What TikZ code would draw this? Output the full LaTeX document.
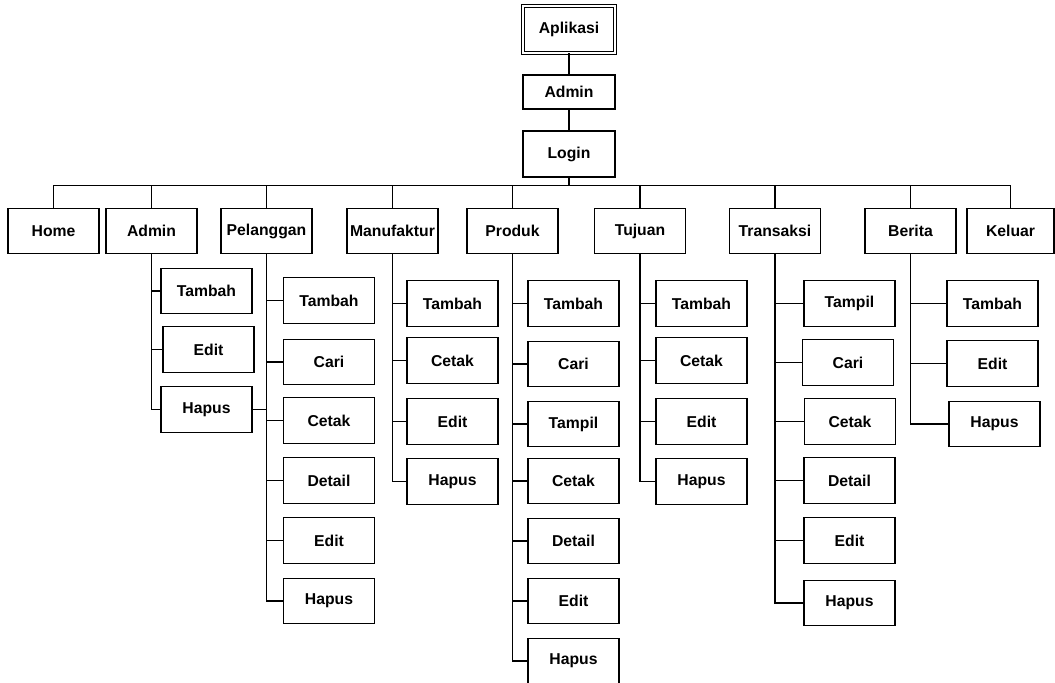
\documentclass[tikz,border=0pt]{standalone}
\usepackage{fontspec}
\setmainfont{Liberation Sans}
\begin{document}
\begin{tikzpicture}[x=0.75pt,y=-0.75pt,
  box/.style={draw,line width=0.9pt,minimum width=68.25pt,minimum height=34pt,inner sep=0pt,
    font=\fontsize{11.8}{14}\selectfont\bfseries},
  wire/.style={line width=0.9pt}]
\useasboundingbox (0,0) rectangle (1055,682);
% top chain
\node[box,minimum width=69pt,minimum height=35pt,double,double distance=1.6pt,line width=0.7pt] (apl) at (569,29.5) {Aplikasi};
\node[box,minimum width=69pt,minimum height=25.5pt] (adm0) at (569,92) {Admin};
\node[box,minimum width=69pt,minimum height=34.5pt] (login) at (569,154) {Login};
\draw[wire] (apl) -- (adm0);
\draw[wire] (adm0) -- (login);
\coordinate (bus) at (569,185.5);
% level 1
\node[box] (home)  at (53.5,231)  {Home};
\node[box] (admin) at (151.5,231) {Admin};
\node[box] (pel)   at (266.5,231) {Pelanggan};
\node[box] (man)   at (392.5,231) {Manufaktur};
\node[box] (prod)  at (512.5,231) {Produk};
\node[box] (tuj)   at (640,231)   {Tujuan};
\node[box] (trans) at (775,231)   {Transaksi};
\node[box] (ber)   at (910.5,231) {Berita};
\node[box,minimum width=65.25pt] (kel) at (1010.5,231) {Keluar};
\draw[wire] (login.south) -- (bus);
\draw[wire] (home.north) |- (bus) -| (kel.north);
\foreach \n in {admin,pel,man,prod,tuj,trans,ber}
  \draw[wire] (\n.north) -- (\n.north |- bus);
% Admin children
\node[box] (a1) at (206.5,291)   {Tambah};
\node[box] (a2) at (208.5,349.5) {Edit};
\node[box] (a3) at (206.5,409.5) {Hapus};
% Pelanggan children
\node[box] (p1) at (329,300.5) {Tambah};
\node[box] (p2) at (329,362)   {Cari};
\node[box] (p3) at (329,420.5) {Cetak};
\node[box] (p4) at (329,480.5) {Detail};
\node[box] (p5) at (329,540.5) {Edit};
\node[box] (p6) at (329,601)   {Hapus};
% Manufaktur children
\node[box] (m1) at (452.5,303.5) {Tambah};
\node[box] (m2) at (452.5,360.5) {Cetak};
\node[box] (m3) at (452.5,421.5) {Edit};
\node[box] (m4) at (452.5,481.5) {Hapus};
% Produk children
\node[box] (r1) at (573.5,303.5) {Tambah};
\node[box] (r2) at (573.5,364)   {Cari};
\node[box] (r3) at (573.5,424)   {Tampil};
\node[box] (r4) at (573.5,481)   {Cetak};
\node[box] (r5) at (573.5,541)   {Detail};
\node[box] (r6) at (573.5,601)   {Edit};
\node[box] (r7) at (573.5,661)   {Hapus};
% Tujuan children
\node[box] (t1) at (701.5,303.5) {Tambah};
\node[box] (t2) at (701.5,360.5) {Cetak};
\node[box] (t3) at (701.5,421.5) {Edit};
\node[box] (t4) at (701.5,481.5) {Hapus};
% Transaksi children
\node[box] (s1) at (849.5,303.5) {Tampil};
\node[box] (s2) at (848,362.5)   {Cari};
\node[box] (s3) at (850,421.5)   {Cetak};
\node[box] (s4) at (849.5,480.5) {Detail};
\node[box] (s5) at (849.5,540.5) {Edit};
\node[box] (s6) at (849.5,603)   {Hapus};
% Berita children
\node[box] (b1) at (992.5,303.5) {Tambah};
\node[box] (b2) at (992.5,363.5) {Edit};
\node[box] (b3) at (994.5,424)   {Hapus};
% branches
\foreach \c in {a1,a2,a3} \draw[wire] (admin.south) |- (\c.west);
\foreach \c in {p1,p2,p3,p4,p5,p6} \draw[wire] (pel.south) |- (\c.west);
\foreach \c in {m1,m2,m3,m4} \draw[wire] (man.south) |- (\c.west);
\foreach \c in {r1,r2,r3,r4,r5,r6,r7} \draw[wire] (prod.south) |- (\c.west);
\foreach \c in {t1,t2,t3,t4} \draw[wire] (tuj.south) |- (\c.west);
\foreach \c in {s1,s2,s3,s4,s5,s6} \draw[wire] (trans.south) |- (\c.west);
\foreach \c in {b1,b2,b3} \draw[wire] (ber.south) |- (\c.west);
\draw[wire] (a3.east) -- (pel.south |- a3.east);
\end{tikzpicture}
\end{document}
